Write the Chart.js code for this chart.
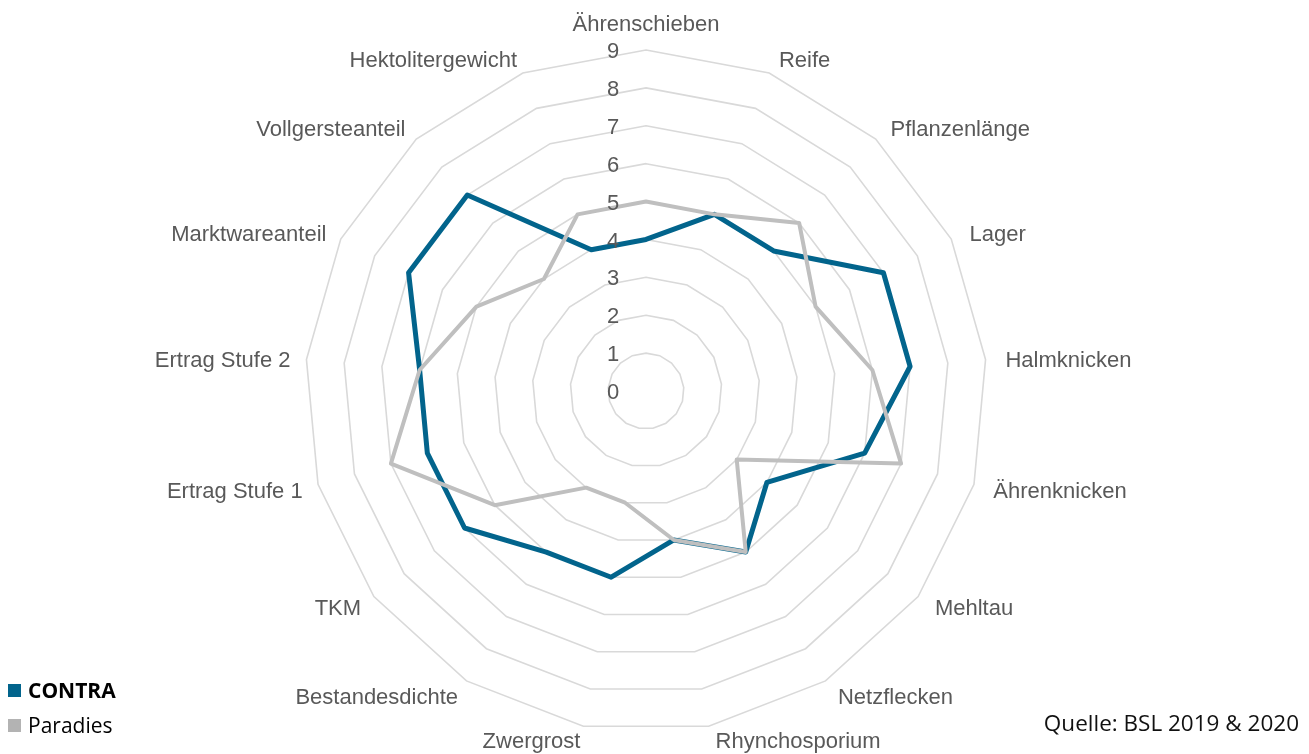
<!DOCTYPE html>
<html>
<head>
<meta charset="utf-8">
<script src="https://cdn.jsdelivr.net/npm/chart.js@4/dist/chart.umd.min.js"></script>
<style>
  html, body { margin:0; padding:0; background:#fff; }
  #wrap { position:relative; width:1309px; height:754px; overflow:hidden; }
  #c { position:absolute; left:0; top:0; }
  .leg { position:absolute; left:8px; font-family:"Open Sans", sans-serif; font-size:21px; color:#000; line-height:26px; }
  .leg span.sq { display:inline-block; width:13px; height:13px; margin-right:7px; vertical-align:1px; }
  #src { position:absolute; right:10px; top:708px; font-family:"Open Sans", sans-serif; font-size:22.5px; color:#111; line-height:30px; }
</style>
</head>
<body>
<div id="wrap">
  <canvas id="c" width="1309" height="754"></canvas>
  <div class="leg" style="top:677px;"><span class="sq" style="background:#02648C"></span><b>CONTRA</b></div>
  <div class="leg" style="top:712px;"><span class="sq" style="background:#B3B3B3"></span>Paradies</div>
  <div id="src">Quelle: BSL 2019 &amp; 2020</div>
</div>
<script>
const categories = ["Ährenschieben","Reife","Pflanzenlänge","Lager","Halmknicken","Ährenknicken","Mehltau","Netzflecken","Rhynchosporium","Zwergrost","Bestandesdichte","TKM","Ertrag Stufe 1","Ertrag Stufe 2","Marktwareanteil","Vollgersteanteil","Hektolitergewicht"];
const contra   = [4, 5, 5, 7, 7, 6, 4, 5, 4, 5, 5, 6, 6, 6, 7, 7, 4];
const paradies = [5, 5, 6, 5, 6, 7, 3, 5, 4, 3, 3, 5, 7, 6, 5, 4, 5];
const seriesNames = ["CONTRA", "Paradies"];
const tickMin = 0, tickMax = 9, tickStep = 1;

const labelPlugin = {
  id: 'customLabels',
  afterDraw(chart) {
    const s = chart.scales.r;
    const ctx = chart.ctx;
    ctx.save();
    // tick labels
    ctx.font = '22px "Liberation Sans", Arial, sans-serif';
    ctx.fillStyle = '#595959';
    ctx.textAlign = 'center';
    ctx.textBaseline = 'middle';
    s.ticks.forEach(t => {
      const d = s.getDistanceFromCenterForValue(t.value);
      ctx.fillText(String(t.value), s.xCenter - 33, s.yCenter - d + 2);
    });
    // point labels
    ctx.font = '22px "Liberation Sans", Arial, sans-serif';
    const n = chart.data.labels.length;
    for (let i = 0; i < n; i++) {
      const p = s.getPointPosition(i, s.drawingArea + 16);
      const deg = i * 360 / n;
      let x = p.x, y = p.y;
      const dy = (deg > 160 && deg < 200) ? 0 : 3;
      if (deg === 0) { ctx.textAlign = 'center'; ctx.textBaseline = 'bottom'; y += 2; }
      else if (deg < 180) { ctx.textAlign = 'left'; ctx.textBaseline = 'middle'; x += 4; y += dy; }
      else { ctx.textAlign = 'right'; ctx.textBaseline = 'middle'; y += dy; }
      ctx.fillText(chart.data.labels[i], x, y);
    }
    ctx.restore();
  }
};

new Chart(document.getElementById('c'), {
  type: 'radar',
  data: {
    labels: categories,
    datasets: [
      { label: seriesNames[0], data: contra, borderColor: '#02648C', backgroundColor: '#02648C', borderWidth: 5, fill: false, pointRadius: 0, pointHoverRadius: 0, borderJoinStyle: 'round', order: 1 },
      { label: seriesNames[1], data: paradies, borderColor: '#BFBFBF', backgroundColor: '#BFBFBF', borderWidth: 4, fill: false, pointRadius: 0, pointHoverRadius: 0, borderJoinStyle: 'round', order: 0 }
    ]
  },
  options: {
    responsive: false,
    animation: false,
    layout: { padding: { left: 305, right: 322, top: 50, bottom: 22 } },
    plugins: { legend: { display: false }, tooltip: { enabled: false } },
    scales: {
      r: {
        min: tickMin, max: tickMax,
        ticks: { display: false, stepSize: tickStep },
        grid: { color: '#D9D9D9', lineWidth: 1.6, circular: false },
        angleLines: { display: false },
        pointLabels: { display: false }
      }
    }
  },
  plugins: [labelPlugin]
});
</script>
</body>
</html>
